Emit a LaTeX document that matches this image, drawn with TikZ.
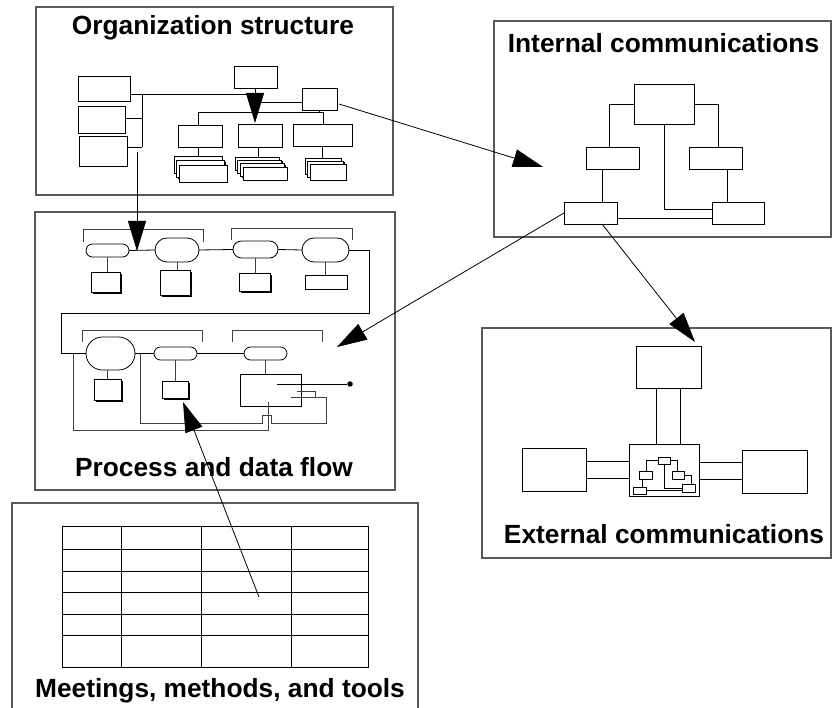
\documentclass[tikz,border=0pt]{standalone}
\usepackage{fontspec}
\setmainfont{Liberation Sans}
\usetikzlibrary{arrows.meta,shapes.misc,shadows}
\newcommand\bx[6][]{\node[#1, minimum width={(#5-#3)*1pt}, minimum height={(#6-#4)*1pt}] (#2) at ({(#3+#5)/2},{(#4+#6)/2}) {};}
\tikzset{
 frame/.style={draw=black!65, line width=1.1pt, rectangle, inner sep=0pt, outer sep=0pt},
 bbox/.style={draw=black, line width=0.8pt, fill=white, rectangle, inner sep=0pt, outer sep=0pt},
 sbox/.style={bbox, drop shadow={shadow xshift=2pt, shadow yshift=-2pt, fill=black, opacity=1}},
 cbox/.style={bbox, drop shadow={shadow xshift=1.2pt, shadow yshift=-1.2pt, fill=black, opacity=1}},
 mbox/.style={draw=black, line width=0.6pt, fill=white, rectangle, inner sep=0pt, outer sep=0pt},
 pill/.style={draw=black, line width=0.8pt, fill=white, rounded rectangle, inner sep=0pt, outer sep=0pt},
 ln/.style={draw=black, line width=0.8pt},
 mln/.style={draw=black, line width=0.6pt},
 gln/.style={draw=black!75, line width=0.8pt},
 bigarrow/.style={ln, -{Triangle[length=30pt,width=18pt]}},
 title/.style={font=\fontsize{26.3}{30}\selectfont\bfseries, anchor=base, inner sep=0pt},
}
\begin{document}
\begin{tikzpicture}[x=1pt,y=-1pt]
\useasboundingbox (0,0) rectangle (833,708);
\fill[white] (0,0) rectangle (833,708);

% ---------- frames ----------
\bx[frame]{fOrg}{36}{7}{393}{195}
\bx[frame]{fProc}{35}{212}{395}{490}
\bx[frame]{fInt}{494}{21}{831}{237}
\bx[frame]{fExt}{482}{328}{831}{558}
\bx[frame]{fMeet}{12}{503}{418}{716}

% ---------- titles ----------
\node[title] (tOrg) at (213,35) {Organization structure};
\node[title] (tInt) at (663.5,53) {Internal communications};
\node[title] (tProc) at (214,477) {Process and data flow};
\node[title] (tExt) at (664,543) {External communications};
\node[title] (tMeet) at (220,697) {Meetings, methods, and tools};

% ---------- organization structure ----------
\bx[bbox]{L1}{78}{76}{130}{101}
\bx[bbox]{L2}{78}{106}{125}{133}
\bx[bbox]{L3}{79}{136}{127}{166}
\bx[bbox]{T}{234}{66}{277}{88}
\bx[bbox]{R}{302}{88}{337}{110}
\bx[bbox]{A}{178}{125}{222}{147}
\bx[bbox]{B}{238}{124}{282}{147}
\bx[bbox]{C}{293}{124}{352}{146}
\draw[ln] (L1.east |- 0,94) -- (257,94);
\draw[ln] (142,94) -- (142,147);
\draw[ln] (L2.east |- 0,118) -- (142,118);
\draw[ln] (L3.east |- 0,147) -- (142,147);
\draw[ln] (R.west |- 0,102) -- (258,102);
\draw[ln] (A.north -| 198,0) -- (198,112) -| (C.north -| 323,0);
\draw[ln] (R.south) -- (R.south |- 0,112);
\draw[ln] (A.south -| 198,0) -- (198,156);
\draw[ln] (B.south -| 258,0) -- (258,157);
\draw[ln] (C.south -| 322,0) -- (322,158);
\bx[cbox]{A3}{174}{156}{222}{173}
\bx[cbox]{A2}{176.5}{160.5}{224.5}{177.5}
\bx[cbox]{A1}{179}{165}{227}{182}
\bx[cbox]{B4}{235}{157}{279}{170}
\bx[cbox]{B3}{237.7}{160.3}{281.7}{173.3}
\bx[cbox]{B2}{240.3}{163.7}{284.3}{176.7}
\bx[cbox]{B1}{243}{167}{287}{180}
\bx[cbox]{C3}{305}{158}{341}{174}
\bx[cbox]{C2}{307.5}{161}{343.5}{177}
\bx[cbox]{C1}{310}{164}{346}{180}
\draw[bigarrow] (T.south -| 255,0) -- (255,123);

% ---------- process and data flow ----------
\draw[gln] (83,242) |- (203,229) -- (203,242);
\draw[gln] (231,240) |- (352,228) -- (352,240);
\draw[gln] (82,342) |- (202,330) -- (202,342);
\draw[gln] (232,342) |- (322,330) -- (322,342);
\bx[pill]{P1}{86}{244}{129}{257}
\bx[pill]{P2}{155}{238}{199}{262}
\bx[pill]{P3}{233}{241}{278}{258}
\bx[pill]{P4}{302}{238}{349}{262}
\bx[pill]{P5}{86}{337}{135}{370}
\bx[pill]{P6}{154}{347}{197}{360}
\bx[pill]{P7}{244}{347}{287}{360}
\bx[sbox]{S1}{91}{272}{120}{292}
\bx[sbox]{S2}{160}{270}{190}{295}
\bx[sbox]{S3}{239}{273}{270}{291}
\bx[bbox]{S4}{305}{275}{347}{289}
\bx[sbox]{S5}{94}{379}{121}{400}
\bx[sbox]{S6}{162}{381}{188}{398}
\bx[bbox]{S7}{240}{374}{301}{406}
\node[circle, fill=black, inner sep=0pt, minimum size=5.5pt] (dot) at (350,384) {};
\draw[gln] (P1.south) -- (P1.south |- S1.north);
\draw[gln] (P2.south) -- (P2.south |- S2.north);
\draw[gln] (P3.south) -- (P3.south |- S3.north);
\draw[gln] (P4.south) -- (P4.south |- S4.north);
\draw[gln] (S5.north) -- (S5.north |- P5.south);
\draw[gln] (P6.south) -- (P6.south |- S6.north);
\draw[gln] (P7.south) -- (P7.south |- S7.north);
\draw[ln] (P1.east) -- (P2.west);
\draw[ln] (P2.east) -- (P3.west);
\draw[ln] (P3.east) -- (P4.west);
\draw[ln] (P4.east) -| (369,313) -| (61,353.5) -- (P5.west);
\draw[ln] (P5.east) -- (P6.west);
\draw[ln] (P6.east) -- (P7.west);
\draw[gln] (73,353.5) -- (73,430) -- (268,430) -- (268,402);
\draw[gln] (140,353.5) -- (140,423) -- (262,423) -- (262,415) -- (271,415) -- (271,423) -- (326,423) -- (326,397) -- (291,397);
\draw[gln] (297,391) -- (315,391) -- (315,397);
\draw[ln] (277,384) -- (dot);

% ---------- internal communications ----------
\bx[bbox]{IT}{634}{84}{694}{124}
\bx[bbox]{IL}{586}{147}{639}{169}
\bx[bbox]{IR}{689}{147}{742}{169}
\bx[bbox]{IBL}{564}{202}{617}{224}
\bx[bbox]{IBR}{712}{202}{764}{224}
\draw[ln] (IT.west) -| (IL.north -| 609,0);
\draw[ln] (IT.east) -| (IR.north -| 718,0);
\draw[ln] (IT.south) |- (IBR.west |- 0,209);
\draw[ln] (IL.south -| 602,0) -- (IBL.north -| 602,0);
\draw[ln] (IR.south -| 727,0) -- (IBR.north -| 727,0);
\draw[ln] (IBL.east |- 0,218) -- (IBR.west |- 0,218);

% ---------- external communications ----------
\bx[bbox]{ET}{636}{346}{701}{388}
\bx[bbox]{EC}{629}{444}{699}{496}
\bx[bbox]{EL}{522}{448}{586}{491}
\bx[bbox]{ER}{742}{450}{807}{493}
\draw[ln] (ET.south -| 656,0) -- (EC.north -| 656,0);
\draw[ln] (ET.south -| 680,0) -- (EC.north -| 680,0);
\draw[ln] (EL.east |- 0,461) -- (EC.west |- 0,461);
\draw[ln] (EL.east |- 0,478) -- (EC.west |- 0,478);
\draw[ln] (EC.east |- 0,462) -- (ER.west |- 0,462);
\draw[ln] (EC.east |- 0,479) -- (ER.west |- 0,479);
\bx[mbox]{m1}{658}{457}{670}{464}
\bx[mbox]{m2}{639}{471}{652}{479}
\bx[mbox]{m3}{672}{471}{684}{479}
\bx[mbox]{m4}{633}{487}{646}{494}
\bx[mbox]{m5}{682}{484}{695}{492}
\draw[mln] (m1.west) -| (m2.north -| 646,0);
\draw[mln] (m1.east) -| (m3.north -| 677,0);
\draw[mln] (m1.south) |- (m5.west |- 0,488);
\draw[mln] (m2.south -| 642,0) -- (m4.north -| 642,0);
\draw[mln] (m3.east) -| (m5.north -| 691,0);
\draw[mln] (m4.east |- 0,490) -- (m5.west |- 0,490);

% ---------- meetings table ----------
\draw[ln] (62,526) rectangle (368,667);
\foreach \cx in {121,201,291} \draw[ln] (\cx,526) -- (\cx,667);
\foreach \ry in {549,571,592,614,635} \draw[ln] (62,\ry) -- (368,\ry);

% ---------- long arrows ----------
\coordinate (o1) at (339,104);
\coordinate (ia) at (543,167);
\draw[bigarrow] (o1) -- (ia);
\coordinate (o2) at (137,152);
\coordinate (pa) at (137,251);
\draw[bigarrow] (o2) -- (pa);
\coordinate (pb) at (337,347);
\draw[bigarrow] (IBL.west) -- (pb);
\coordinate (i2) at (602,224);
\coordinate (ea) at (695,342);
\draw[bigarrow] (i2) -- (ea);
\coordinate (t1) at (259,597);
\coordinate (pc) at (183,402);
\draw[bigarrow] (t1) -- (pc);
\end{tikzpicture}
\end{document}
